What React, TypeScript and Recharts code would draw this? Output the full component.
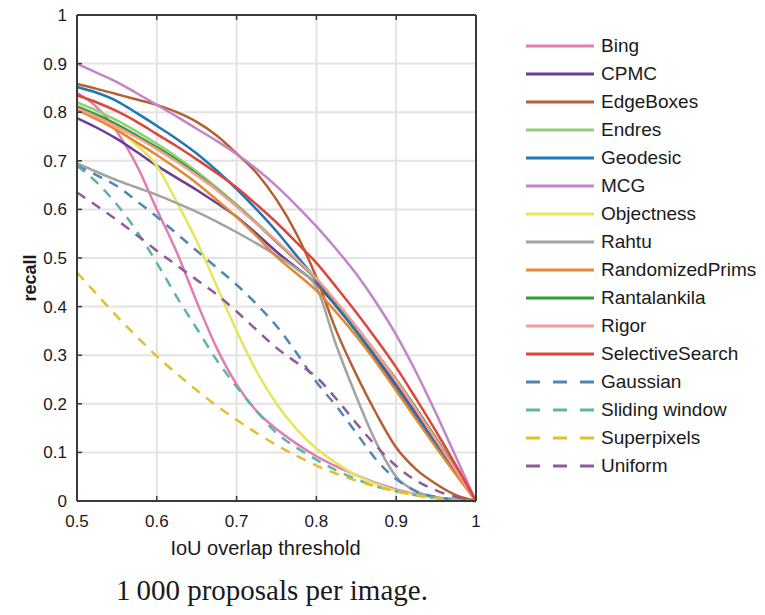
import { LineChart, Line, XAxis, YAxis, CartesianGrid, Legend } from "recharts";

const xs = [0.5, 0.525, 0.55, 0.575, 0.6, 0.625, 0.65, 0.675, 0.7, 0.725, 0.75, 0.775, 0.8, 0.825, 0.85, 0.875, 0.9, 0.925, 0.95, 0.975, 1];
const xTicks = [0.5, 0.6, 0.7, 0.8, 0.9, 1];
const yTicks = [0, 0.1, 0.2, 0.3, 0.4, 0.5, 0.6, 0.7, 0.8, 0.9, 1];

const bing = [0.84, 0.81, 0.76, 0.69, 0.6, 0.512, 0.41, 0.315, 0.24, 0.185, 0.148, 0.118, 0.092, 0.071, 0.053, 0.037, 0.024, 0.014, 0.007, 0.003, 0];
const cpmc = [0.788, 0.768, 0.745, 0.718, 0.69, 0.665, 0.64, 0.613, 0.585, 0.55, 0.513, 0.48, 0.447, 0.4, 0.35, 0.296, 0.24, 0.182, 0.122, 0.061, 0];
const edgeBoxes = [0.858, 0.848, 0.837, 0.826, 0.815, 0.8, 0.78, 0.752, 0.715, 0.675, 0.62, 0.55, 0.46, 0.35, 0.26, 0.18, 0.11, 0.065, 0.035, 0.012, 0];
const endres = [0.82, 0.803, 0.783, 0.76, 0.735, 0.708, 0.678, 0.645, 0.61, 0.573, 0.535, 0.496, 0.457, 0.408, 0.357, 0.303, 0.247, 0.188, 0.126, 0.063, 0];
const geodesic = [0.852, 0.84, 0.823, 0.798, 0.772, 0.745, 0.715, 0.68, 0.642, 0.6, 0.555, 0.505, 0.455, 0.402, 0.348, 0.291, 0.232, 0.174, 0.116, 0.058, 0];
const mcg = [0.9, 0.881, 0.862, 0.839, 0.815, 0.791, 0.766, 0.741, 0.714, 0.683, 0.648, 0.608, 0.565, 0.518, 0.467, 0.408, 0.342, 0.265, 0.18, 0.09, 0];
const objectness = [0.81, 0.79, 0.765, 0.732, 0.69, 0.615, 0.535, 0.443, 0.35, 0.267, 0.2, 0.148, 0.108, 0.078, 0.053, 0.035, 0.021, 0.012, 0.006, 0.002, 0];
const rahtu = [0.695, 0.677, 0.66, 0.645, 0.63, 0.613, 0.595, 0.575, 0.553, 0.53, 0.505, 0.478, 0.44, 0.32, 0.215, 0.12, 0.05, 0.02, 0.008, 0.003, 0];
const randomizedPrims = [0.805, 0.785, 0.763, 0.738, 0.712, 0.684, 0.654, 0.62, 0.584, 0.545, 0.503, 0.468, 0.433, 0.388, 0.339, 0.285, 0.227, 0.168, 0.11, 0.054, 0];
const rantalankila = [0.812, 0.795, 0.775, 0.752, 0.728, 0.702, 0.673, 0.641, 0.607, 0.571, 0.533, 0.495, 0.456, 0.408, 0.358, 0.305, 0.25, 0.191, 0.129, 0.065, 0];
const rigor = [0.808, 0.79, 0.77, 0.748, 0.724, 0.698, 0.67, 0.64, 0.606, 0.571, 0.535, 0.497, 0.458, 0.41, 0.359, 0.305, 0.248, 0.188, 0.126, 0.063, 0];
const selectiveSearch = [0.835, 0.82, 0.802, 0.78, 0.755, 0.73, 0.703, 0.675, 0.645, 0.61, 0.573, 0.532, 0.49, 0.44, 0.388, 0.333, 0.275, 0.21, 0.143, 0.073, 0];
const gaussian = [0.69, 0.67, 0.648, 0.617, 0.585, 0.55, 0.515, 0.48, 0.445, 0.405, 0.36, 0.305, 0.245, 0.195, 0.14, 0.085, 0.045, 0.02, 0.008, 0.003, 0];
const slidingWindow = [0.69, 0.655, 0.61, 0.555, 0.49, 0.42, 0.355, 0.29, 0.235, 0.185, 0.14, 0.11, 0.085, 0.063, 0.045, 0.03, 0.02, 0.012, 0.006, 0.002, 0];
const superpixels = [0.47, 0.425, 0.38, 0.338, 0.298, 0.262, 0.228, 0.196, 0.167, 0.14, 0.115, 0.093, 0.073, 0.056, 0.042, 0.03, 0.02, 0.012, 0.006, 0.002, 0];
const uniform = [0.635, 0.607, 0.578, 0.547, 0.515, 0.485, 0.455, 0.425, 0.39, 0.352, 0.315, 0.285, 0.255, 0.21, 0.16, 0.113, 0.072, 0.042, 0.022, 0.008, 0];

const series = [
  { name: "Bing", values: bing, color: "#e37bb5", dashed: false },
  { name: "CPMC", values: cpmc, color: "#6a3d9a", dashed: false },
  { name: "EdgeBoxes", values: edgeBoxes, color: "#b5602e", dashed: false },
  { name: "Endres", values: endres, color: "#8fcf7c", dashed: false },
  { name: "Geodesic", values: geodesic, color: "#1f78b4", dashed: false },
  { name: "MCG", values: mcg, color: "#c384cc", dashed: false },
  { name: "Objectness", values: objectness, color: "#e6e65c", dashed: false },
  { name: "Rahtu", values: rahtu, color: "#a3a3a3", dashed: false },
  { name: "RandomizedPrims", values: randomizedPrims, color: "#e5882e", dashed: false },
  { name: "Rantalankila", values: rantalankila, color: "#33a02c", dashed: false },
  { name: "Rigor", values: rigor, color: "#fb9a99", dashed: false },
  { name: "SelectiveSearch", values: selectiveSearch, color: "#df4538", dashed: false },
  { name: "Gaussian", values: gaussian, color: "#4f86b4", dashed: true },
  { name: "Sliding window", values: slidingWindow, color: "#5db5a4", dashed: true },
  { name: "Superpixels", values: superpixels, color: "#e0c02e", dashed: true },
  { name: "Uniform", values: uniform, color: "#8e5a9c", dashed: true },
];

const rows = xs.map((x, i) => {
  const r: any = { x };
  series.forEach((s) => (r[s.name] = s.values[i]));
  return r;
});

const sans = "'Liberation Sans', Arial, sans-serif";
const tickStyle = { fill: "#1a1a1a", fontSize: 17, fontFamily: sans };
const axisLine = { stroke: "#3a3a3a", strokeWidth: 2 };
const tickLine = { stroke: "#3a3a3a", strokeWidth: 1.5 };
const fmt = (v: number) => String(Math.round(v * 10) / 10);

function LegendBox() {
  return (
    <div style={{ fontFamily: sans, fontSize: 19, color: "#1a1a1a" }}>
      {series.map((s) => (
        <div key={s.name} style={{ height: 28, display: "flex", alignItems: "center" }}>
          <svg width={76} height={28}>
            <line
              x1={6}
              x2={74}
              y1={14}
              y2={14}
              stroke={s.color}
              strokeWidth={3}
              strokeDasharray={s.dashed ? "14 13" : undefined}
            />
          </svg>
          <span style={{ marginLeft: 5, whiteSpace: "nowrap" }}>{s.name}</span>
        </div>
      ))}
    </div>
  );
}

export default function App() {
  return (
    <div style={{ position: "absolute", left: 0, top: 0, width: 765, height: 615, background: "#fff" }}>
      <LineChart width={765} height={615} data={rows} margin={{ top: 0, right: 269, bottom: 84, left: 17 }}>
        <CartesianGrid stroke="#e3e3e3" strokeWidth={2} />
        <XAxis
          dataKey="x"
          type="number"
          domain={[0.5, 1]}
          ticks={xTicks}
          interval={0}
          tickFormatter={fmt}
          height={30}
          tickSize={-5}
          tickMargin={19}
          axisLine={axisLine}
          tickLine={tickLine}
          tick={tickStyle}
          label={{
            content: (p: any) => (
              <text x={p.viewBox.x + p.viewBox.width / 2 - 11} y={555} textAnchor="middle" fontFamily={sans} fontSize={20} fill="#1a1a1a">
                IoU overlap threshold
              </text>
            ),
          }}
        />
        <XAxis
          xAxisId="t"
          orientation="top"
          dataKey="x"
          type="number"
          domain={[0.5, 1]}
          ticks={xTicks}
          interval={0}
          tickFormatter={() => ""}
          height={15}
          tickSize={-5}
          axisLine={axisLine}
          tickLine={tickLine}
        />
        <YAxis
          type="number"
          domain={[0, 1]}
          ticks={yTicks}
          interval={0}
          tickFormatter={fmt}
          width={60}
          tickSize={-5}
          tickMargin={15}
          axisLine={axisLine}
          tickLine={tickLine}
          tick={tickStyle}
          label={{
            content: (p: any) => {
              const cy = p.viewBox.y + p.viewBox.height / 2 + 20;
              return (
                <text x={36} y={cy} transform={`rotate(-90 36 ${cy})`} textAnchor="middle" fontFamily={sans} fontSize={18} fontWeight={600} fill="#1a1a1a">
                  recall
                </text>
              );
            },
          }}
        />
        <YAxis
          yAxisId="r"
          orientation="right"
          type="number"
          domain={[0, 1]}
          ticks={yTicks}
          interval={0}
          tickFormatter={() => ""}
          width={20}
          tickSize={-5}
          axisLine={axisLine}
          tickLine={tickLine}
        />
        {series.map((s) => (
          <Line
            key={s.name}
            dataKey={s.name}
            type="monotone"
            stroke={s.color}
            strokeWidth={2.5}
            strokeDasharray={s.dashed ? "10 8" : undefined}
            dot={false}
            activeDot={false}
            isAnimationActive={false}
          />
        ))}
        <Legend
          layout="vertical"
          align="center"
          verticalAlign="middle"
          wrapperStyle={{ left: 520, top: 32, width: 245 }}
          content={() => <LegendBox />}
        />
      </LineChart>
      <div
        style={{
          position: "absolute",
          left: 0,
          width: 544,
          top: 572,
          textAlign: "center",
          fontFamily: "'Liberation Serif', 'DejaVu Serif', serif",
          fontSize: 29,
          lineHeight: "36px",
          color: "#1a1a1a",
        }}
      >
        1{"\u2009"}000 proposals per image.
      </div>
    </div>
  );
}
